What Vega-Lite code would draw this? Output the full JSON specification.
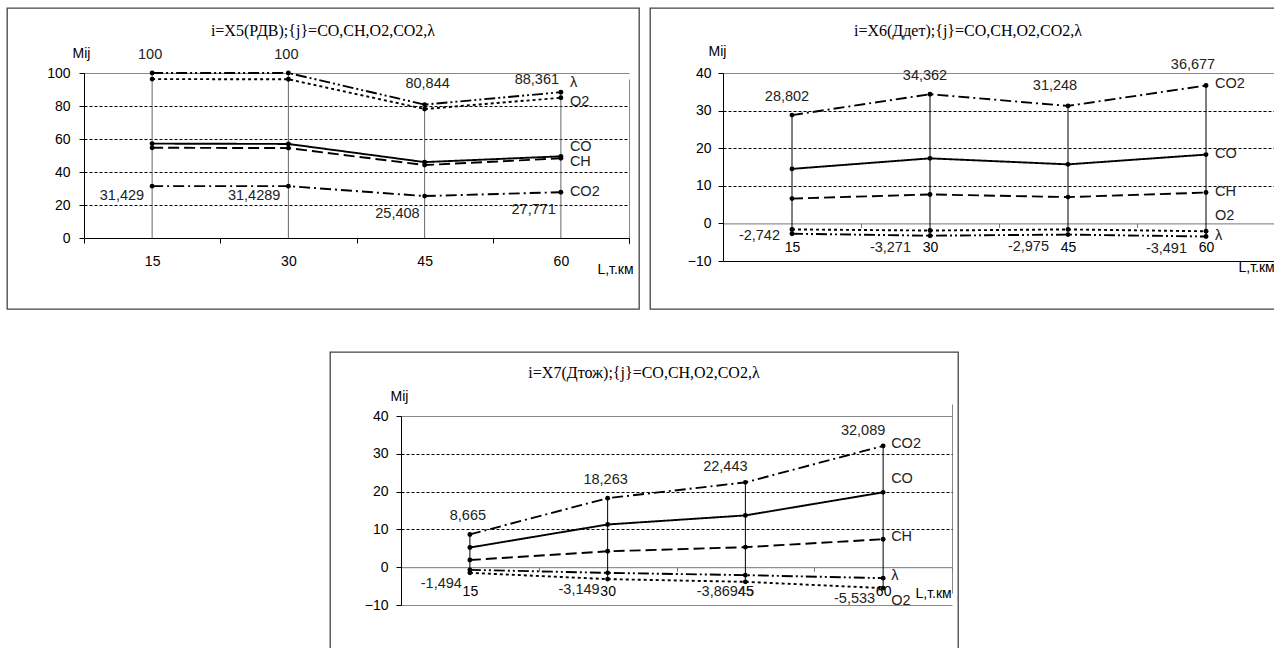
{
  "$schema": "https://vega.github.io/schema/vega-lite/v6.json",
  "padding": {"left": 6, "top": 7, "right": 0, "bottom": 0},
  "spacing": 41,
  "datasets": {
    "d": [
      {"p": 1, "s": "CO", "L": 15, "v": 57.2}, {"p": 1, "s": "CO", "L": 30, "v": 57.0}, {"p": 1, "s": "CO", "L": 45, "v": 46.0}, {"p": 1, "s": "CO", "L": 60, "v": 49.5},
      {"p": 1, "s": "CH", "L": 15, "v": 54.7}, {"p": 1, "s": "CH", "L": 30, "v": 54.5}, {"p": 1, "s": "CH", "L": 45, "v": 44.2}, {"p": 1, "s": "CH", "L": 60, "v": 48.3},
      {"p": 1, "s": "O2", "L": 15, "v": 96.3}, {"p": 1, "s": "O2", "L": 30, "v": 96.2}, {"p": 1, "s": "O2", "L": 45, "v": 78.2}, {"p": 1, "s": "O2", "L": 60, "v": 85.0},
      {"p": 1, "s": "CO2", "L": 15, "v": 31.429}, {"p": 1, "s": "CO2", "L": 30, "v": 31.4289}, {"p": 1, "s": "CO2", "L": 45, "v": 25.408}, {"p": 1, "s": "CO2", "L": 60, "v": 27.771},
      {"p": 1, "s": "λ", "L": 15, "v": 100}, {"p": 1, "s": "λ", "L": 30, "v": 100}, {"p": 1, "s": "λ", "L": 45, "v": 80.844}, {"p": 1, "s": "λ", "L": 60, "v": 88.361},
      {"p": 2, "s": "CO", "L": 15, "v": 14.5}, {"p": 2, "s": "CO", "L": 30, "v": 17.3}, {"p": 2, "s": "CO", "L": 45, "v": 15.7}, {"p": 2, "s": "CO", "L": 60, "v": 18.3},
      {"p": 2, "s": "CH", "L": 15, "v": 6.6}, {"p": 2, "s": "CH", "L": 30, "v": 7.7}, {"p": 2, "s": "CH", "L": 45, "v": 7.0}, {"p": 2, "s": "CH", "L": 60, "v": 8.2},
      {"p": 2, "s": "O2", "L": 15, "v": -1.6}, {"p": 2, "s": "O2", "L": 30, "v": -1.9}, {"p": 2, "s": "O2", "L": 45, "v": -1.6}, {"p": 2, "s": "O2", "L": 60, "v": -2.1},
      {"p": 2, "s": "CO2", "L": 15, "v": 28.802}, {"p": 2, "s": "CO2", "L": 30, "v": 34.362}, {"p": 2, "s": "CO2", "L": 45, "v": 31.248}, {"p": 2, "s": "CO2", "L": 60, "v": 36.677},
      {"p": 2, "s": "λ", "L": 15, "v": -2.742}, {"p": 2, "s": "λ", "L": 30, "v": -3.271}, {"p": 2, "s": "λ", "L": 45, "v": -2.975}, {"p": 2, "s": "λ", "L": 60, "v": -3.491},
      {"p": 3, "s": "CO", "L": 15, "v": 5.2}, {"p": 3, "s": "CO", "L": 30, "v": 11.3}, {"p": 3, "s": "CO", "L": 45, "v": 13.7}, {"p": 3, "s": "CO", "L": 60, "v": 19.8},
      {"p": 3, "s": "CH", "L": 15, "v": 1.9}, {"p": 3, "s": "CH", "L": 30, "v": 4.2}, {"p": 3, "s": "CH", "L": 45, "v": 5.3}, {"p": 3, "s": "CH", "L": 60, "v": 7.4},
      {"p": 3, "s": "O2", "L": 15, "v": -1.494}, {"p": 3, "s": "O2", "L": 30, "v": -3.149}, {"p": 3, "s": "O2", "L": 45, "v": -3.86945}, {"p": 3, "s": "O2", "L": 60, "v": -5.533},
      {"p": 3, "s": "CO2", "L": 15, "v": 8.665}, {"p": 3, "s": "CO2", "L": 30, "v": 18.263}, {"p": 3, "s": "CO2", "L": 45, "v": 22.443}, {"p": 3, "s": "CO2", "L": 60, "v": 32.089},
      {"p": 3, "s": "λ", "L": 15, "v": -0.7}, {"p": 3, "s": "λ", "L": 30, "v": -1.5}, {"p": 3, "s": "λ", "L": 45, "v": -2.1}, {"p": 3, "s": "λ", "L": 60, "v": -2.9}
    ]
  },
  "vconcat": [
    {
      "bounds": "flush",
      "spacing": 11,
      "hconcat": [
        {
          "width": 632, "height": 301,
          "view": {"stroke": "#444", "strokeWidth": 1.3},
          "title": {"text": "i=X5(РДВ);{j}=CO,CH,O2,CO2,λ", "offset": -39, "baseline": "middle"},
          "data": {"name": "d"},
          "transform": [{"filter": "datum.p == 1"}, {"calculate": "replace(toString(datum.v), '.', ',')", "as": "lbl"}],
          "encoding": {
            "x": {"field": "L", "type": "quantitative",
              "scale": {"domain": [7.5, 67.5], "range": [77, 622], "nice": false, "zero": false},
              "axis": {"offset": -71, "values": [7.5, 15, 22.5, 30, 37.5, 45, 52.5, 60, 67.5],
                "labelExpr": "datum.value % 15 == 0 ? datum.label : ''",
                "tickOpacity": {"condition": {"test": "datum.value % 15 == 0", "value": 0}, "value": 1},
                "tickSize": 5, "labelPadding": 11, "grid": true,
                "gridOpacity": {"condition": {"test": "datum.value == 67.5", "value": 1}, "value": 0},
                "gridColor": "#888", "title": "L,т.км", "titleX": 608, "titleY": 31, "titleAlign": "center", "titleBaseline": "middle"}},
            "y": {"field": "v", "type": "quantitative",
              "scale": {"domain": [0, 100], "range": [230, 65], "nice": false, "zero": false},
              "axis": {"offset": -77, "values": [0, 20, 40, 60, 80, 100], "tickSize": 5, "labelPadding": 9, "grid": true,
                "gridColor": {"condition": {"test": "datum.value == 100", "value": "#888"}, "value": "#000"},
                "gridDash": {"condition": {"test": "datum.value == 100", "value": []}, "value": [3, 2]},
                "gridOpacity": {"condition": {"test": "datum.value == 0", "value": 0}, "value": 1},
                "title": "Mij", "titleAngle": 0, "titleX": -3, "titleY": 45, "titleAlign": "center", "titleBaseline": "middle"}}
          },
          "layer": [
            {"mark": {"type": "rule", "color": "#666", "strokeWidth": 1},
             "encoding": {"y": {"field": "v", "aggregate": "max", "type": "quantitative"}, "y2": {"datum": 0}}},
            {"mark": {"type": "line", "color": "#000", "strokeWidth": 1.9},
             "encoding": {"strokeDash": {"field": "s", "type": "nominal", "legend": null,
               "scale": {"domain": ["CO", "CH", "O2", "CO2", "λ"], "range": [[1, 0], [11, 5], [3, 3], [11, 4, 2, 4], [11, 3, 2, 3, 2, 3]]}}}},
            {"mark": {"type": "point", "filled": true, "color": "#000", "size": 24, "opacity": 1}, "encoding": {}},
            {"transform": [{"filter": "datum.s == 'λ' && datum.L <= 30"}],
             "mark": {"type": "text", "dx": -2, "dy": -18}, "encoding": {"text": {"field": "lbl"}}},
            {"transform": [{"filter": "datum.s == 'λ' && datum.L == 45"}],
             "mark": {"type": "text", "dx": 3, "dy": -21}, "encoding": {"text": {"field": "lbl"}}},
            {"transform": [{"filter": "datum.s == 'λ' && datum.L == 60"}],
             "mark": {"type": "text", "dx": -24, "dy": -12}, "encoding": {"text": {"field": "lbl"}}},
            {"transform": [{"filter": "datum.s == 'CO2' && datum.L <= 30"}],
             "mark": {"type": "text", "align": "right", "dx": -8, "dy": 10}, "encoding": {"text": {"field": "lbl"}}},
            {"transform": [{"filter": "datum.s == 'CO2' && datum.L >= 45"}],
             "mark": {"type": "text", "align": "right", "dx": -5, "dy": 18}, "encoding": {"text": {"field": "lbl"}}},
            {"transform": [{"filter": "datum.L == 60 && (datum.s == 'λ' || datum.s == 'CO')"}],
             "mark": {"type": "text", "align": "left", "dx": 9, "dy": -9}, "encoding": {"text": {"field": "s"}}},
            {"transform": [{"filter": "datum.L == 60 && (datum.s == 'O2' || datum.s == 'CH')"}],
             "mark": {"type": "text", "align": "left", "dx": 9, "dy": 4}, "encoding": {"text": {"field": "s"}}},
            {"transform": [{"filter": "datum.L == 60 && datum.s == 'CO2'"}],
             "mark": {"type": "text", "align": "left", "dx": 9, "dy": 0}, "encoding": {"text": {"field": "s"}}}
          ]
        },
        {
          "width": 636, "height": 301,
          "view": {"stroke": "#444", "strokeWidth": 1.3},
          "title": {"text": "i=X6(Ддет);{j}=CO,CH,O2,CO2,λ", "offset": -39, "baseline": "middle"},
          "data": {"name": "d"},
          "transform": [{"filter": "datum.p == 2"}, {"calculate": "replace(toString(datum.v), '.', ',')", "as": "lbl"}],
          "encoding": {
            "x": {"field": "L", "type": "quantitative",
              "scale": {"domain": [7.5, 67.5], "range": [73, 625], "nice": false, "zero": false},
              "axis": {"offset": -85.6, "values": [7.5, 15, 22.5, 30, 37.5, 45, 52.5, 60, 67.5],
                "labelExpr": "datum.value % 15 == 0 ? datum.label : ''",
                "tickOpacity": {"condition": {"test": "datum.value % 15 == 0", "value": 0}, "value": 1},
                "tickSize": 4, "labelPadding": 13, "domainColor": "#777", "tickColor": "#777", "grid": true,
                "gridOpacity": {"condition": {"test": "datum.value == 67.5", "value": 1}, "value": 0},
                "gridColor": "#888", "title": "L,т.км", "titleX": 588, "titleY": 44, "titleAlign": "left", "titleBaseline": "middle"}},
            "y": {"field": "v", "type": "quantitative",
              "scale": {"domain": [-10, 40], "range": [253, 65], "nice": false, "zero": false},
              "axis": {"offset": -73, "values": [-10, 0, 10, 20, 30, 40], "tickSize": 5, "labelPadding": 7, "grid": true,
                "gridColor": {"condition": {"test": "datum.value == 40", "value": "#888"}, "value": "#000"},
                "gridDash": {"condition": {"test": "datum.value == 40 || datum.value == -10", "value": []}, "value": [3, 2]},
                "gridOpacity": {"condition": {"test": "datum.value == 0", "value": 0}, "value": 1},
                "title": "Mij", "titleAngle": 0, "titleX": -6, "titleY": 43, "titleAlign": "center", "titleBaseline": "middle"}}
          },
          "layer": [
            {"mark": {"type": "rule", "color": "#000", "strokeWidth": 1},
             "encoding": {"y": {"field": "v", "aggregate": "max", "type": "quantitative"}, "y2": {"field": "v", "aggregate": "min"}}},
            {"mark": {"type": "line", "color": "#000", "strokeWidth": 1.9},
             "encoding": {"strokeDash": {"field": "s", "type": "nominal", "legend": null,
               "scale": {"domain": ["CO", "CH", "O2", "CO2", "λ"], "range": [[1, 0], [11, 5], [3, 3], [11, 4, 2, 4], [11, 3, 2, 3, 2, 3]]}}}},
            {"mark": {"type": "point", "filled": true, "color": "#000", "size": 24, "opacity": 1}, "encoding": {}},
            {"transform": [{"filter": "datum.s == 'CO2' && datum.L <= 30"}],
             "mark": {"type": "text", "dy": -18, "dx": -5}, "encoding": {"text": {"field": "lbl"}}},
            {"transform": [{"filter": "datum.s == 'CO2' && datum.L >= 45"}],
             "mark": {"type": "text", "dy": -20, "dx": -13}, "encoding": {"text": {"field": "lbl"}}},
            {"transform": [{"filter": "datum.s == 'λ' && datum.L == 15"}],
             "mark": {"type": "text", "align": "right", "dx": -12, "dy": 2}, "encoding": {"text": {"field": "lbl"}}},
            {"transform": [{"filter": "datum.s == 'λ' && datum.L > 15"}],
             "mark": {"type": "text", "align": "right", "dx": -19, "dy": 12}, "encoding": {"text": {"field": "lbl"}}},
            {"transform": [{"filter": "datum.L == 60 && datum.s == 'O2'"}],
             "mark": {"type": "text", "align": "left", "dx": 9, "dy": -15}, "encoding": {"text": {"field": "s"}}},
            {"transform": [{"filter": "datum.L == 60 && datum.s != 'O2'"}],
             "mark": {"type": "text", "align": "left", "dx": 9, "dy": -1}, "encoding": {"text": {"field": "s"}}}
          ]
        }
      ]
    },
    {
      "bounds": "flush",
      "spacing": 11,
      "hconcat": [
        {"width": 312, "height": 10, "view": {"stroke": null}, "data": {"values": []}, "mark": "point", "encoding": {}},
        {
          "width": 628, "height": 305,
          "view": {"stroke": "#444", "strokeWidth": 1.3},
          "title": {"text": "i=X7(Дтож);{j}=CO,CH,O2,CO2,λ", "offset": -37, "baseline": "middle"},
          "data": {"name": "d"},
          "transform": [{"filter": "datum.p == 3"}, {"calculate": "replace(toString(datum.v), '.', ',')", "as": "lbl"}],
          "encoding": {
            "x": {"field": "L", "type": "quantitative",
              "scale": {"domain": [7.5, 67.5], "range": [71, 622], "nice": false, "zero": false},
              "axis": {"offset": -89.8, "values": [7.5, 15, 22.5, 30, 37.5, 45, 52.5, 60, 67.5],
                "labelExpr": "datum.value % 15 == 0 ? datum.label : ''",
                "tickOpacity": {"condition": {"test": "datum.value % 15 == 0", "value": 0}, "value": 1},
                "tickSize": 4, "labelPadding": 13, "domainColor": "#777", "tickColor": "#777", "grid": true,
                "gridOpacity": {"condition": {"test": "datum.value == 67.5", "value": 1}, "value": 0},
                "gridColor": "#888", "title": "L,т.км", "titleX": 585, "titleY": 26, "titleAlign": "left", "titleBaseline": "middle"}},
            "y": {"field": "v", "type": "quantitative",
              "scale": {"domain": [-10, 40], "range": [253, 64], "nice": false, "zero": false},
              "axis": {"offset": -71, "values": [-10, 0, 10, 20, 30, 40], "tickSize": 5, "labelPadding": 8, "grid": true,
                "gridColor": {"condition": {"test": "datum.value == 40 || datum.value == -10", "value": "#888"}, "value": "#000"},
                "gridDash": {"condition": {"test": "datum.value == 40 || datum.value == -10", "value": []}, "value": [3, 2]},
                "gridOpacity": {"condition": {"test": "datum.value == 0", "value": 0}, "value": 1},
                "title": "Mij", "titleAngle": 0, "titleX": -2, "titleY": 44, "titleAlign": "center", "titleBaseline": "middle"}}
          },
          "layer": [
            {"mark": {"type": "rule", "color": "#000", "strokeWidth": 1},
             "encoding": {"y": {"field": "v", "aggregate": "max", "type": "quantitative"}, "y2": {"field": "v", "aggregate": "min"}}},
            {"mark": {"type": "line", "color": "#000", "strokeWidth": 1.9},
             "encoding": {"strokeDash": {"field": "s", "type": "nominal", "legend": null,
               "scale": {"domain": ["CO", "CH", "O2", "CO2", "λ"], "range": [[1, 0], [11, 5], [3, 3], [11, 4, 2, 4], [11, 3, 2, 3, 2, 3]]}}}},
            {"mark": {"type": "point", "filled": true, "color": "#000", "size": 24, "opacity": 1}, "encoding": {}},
            {"transform": [{"filter": "datum.s == 'CO2' && datum.L <= 30"}],
             "mark": {"type": "text", "dy": -18, "dx": -2}, "encoding": {"text": {"field": "lbl"}}},
            {"transform": [{"filter": "datum.s == 'CO2' && datum.L >= 45"}],
             "mark": {"type": "text", "dy": -15, "dx": -20}, "encoding": {"text": {"field": "lbl"}}},
            {"transform": [{"filter": "datum.s == 'O2' && datum.L != 45"}],
             "mark": {"type": "text", "align": "right", "dx": -8, "dy": 11}, "encoding": {"text": {"field": "lbl"}}},
            {"transform": [{"filter": "datum.s == 'O2' && datum.L == 45"}],
             "mark": {"type": "text", "align": "center", "dx": -20, "dy": 10}, "encoding": {"text": {"field": "lbl"}}},
            {"transform": [{"filter": "datum.L == 60 && datum.s == 'CO'"}],
             "mark": {"type": "text", "align": "left", "dx": 8, "dy": -13}, "encoding": {"text": {"field": "s"}}},
            {"transform": [{"filter": "datum.L == 60 && datum.s == 'O2'"}],
             "mark": {"type": "text", "align": "left", "dx": 8, "dy": 13}, "encoding": {"text": {"field": "s"}}},
            {"transform": [{"filter": "datum.L == 60 && datum.s != 'O2' && datum.s != 'CO'"}],
             "mark": {"type": "text", "align": "left", "dx": 8, "dy": -2}, "encoding": {"text": {"field": "s"}}}
          ]
        }
      ]
    }
  ],
  "config": {
    "font": "Liberation Sans",
    "axis": {"labelFont": "Liberation Sans", "labelFontSize": 14, "labelColor": "#000", "titleFont": "Liberation Sans", "titleFontSize": 14, "titleFontWeight": "normal", "titleColor": "#000", "domainColor": "#000", "tickColor": "#000", "labelFlush": false, "labelOverlap": false, "labelBound": false},
    "title": {"font": "Liberation Serif", "fontSize": 16, "fontWeight": "normal", "color": "#000", "anchor": "middle", "frame": "group"},
    "text": {"font": "Liberation Sans", "fontSize": 14.5, "color": "#222"}
  }
}
